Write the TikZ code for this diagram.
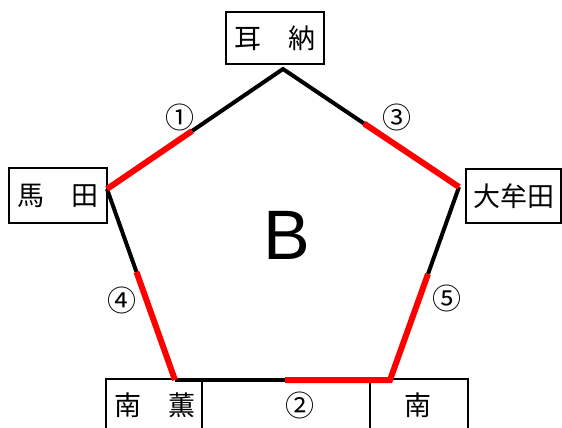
\documentclass[tikz,border=0pt]{standalone}
\usepackage{fontspec}
\newfontfamily\jpfont{Noto Sans CJK JP}
\newfontfamily\latinsans{Liberation Sans}
\begin{document}
\begin{tikzpicture}[x=1pt,y=-1pt,
  boxline/.style={draw=black,line width=2pt},
  placebox/.style={boxline,inner sep=0pt,font=\jpfont\fontsize{27}{27}\selectfont},
  jptext/.style={inner sep=0pt,font=\jpfont\fontsize{27}{27}\selectfont},
  numtext/.style={inner sep=0pt,font=\jpfont\fontsize{29}{29}\selectfont},
  blackedge/.style={draw=black,line width=4pt},
  rededge/.style={draw=red,line width=6pt}]
\useasboundingbox (0,0) rectangle (562,428);
\clip (0,0) rectangle (562,428);
% place boxes
\node[placebox,minimum width=98pt,minimum height=52pt] (mimino) at (275,38) {耳　納};
\node[placebox,minimum width=98pt,minimum height=55pt] (mada) at (58,195.5) {馬　田};
\node[placebox,minimum width=95pt,minimum height=54pt] (omuta) at (513.5,196) {大牟田};
% bottom boxes (cut by the lower edge)
\draw[boxline] (106,379) rectangle (202,450);
\draw[boxline] (202,379) rectangle (370,450);
\draw[boxline] (370,379) rectangle (468,450);
\node[jptext] (minamikaoru) at (155,405) {南　薫};
\node[numtext] (n2) at (300,405) {②};
\node[jptext] (minami) at (418,405) {南};
% pentagon vertices
\coordinate (T) at (283,69);
\coordinate (L) at (107,189);
\coordinate (R) at (459,187);
\coordinate (BL) at (175,380);
\coordinate (BR) at (390,380);
% split points
\coordinate (p1) at (192,131);
\coordinate (p3) at (364,123.5);
\coordinate (p4) at (136.5,272);
\coordinate (p5) at (428,274);
\coordinate (p2) at (285,380);
% black parts
\draw[blackedge] (p1) -- (T) -- (p3);
\draw[blackedge] (L) -- (p4);
\draw[blackedge] (R) -- (p5);
\draw[blackedge] (BL) -- (p2);
% red parts
\draw[rededge] (L) -- (p1);
\draw[rededge] (p3) -- (R);
\draw[rededge] (p4) -- (BL);
\draw[rededge] (p5) -- (BR) -- (p2);
% labels
\node[numtext] (n1) at (180,117) {①};
\node[numtext] (n3) at (397,117) {③};
\node[numtext] (n4) at (122,300) {④};
\node[numtext] (n5) at (447,298) {⑤};
\node[inner sep=0pt,font=\latinsans\fontsize{70}{70}\selectfont] (B) at (287,235) {B};
\end{tikzpicture}
\end{document}
